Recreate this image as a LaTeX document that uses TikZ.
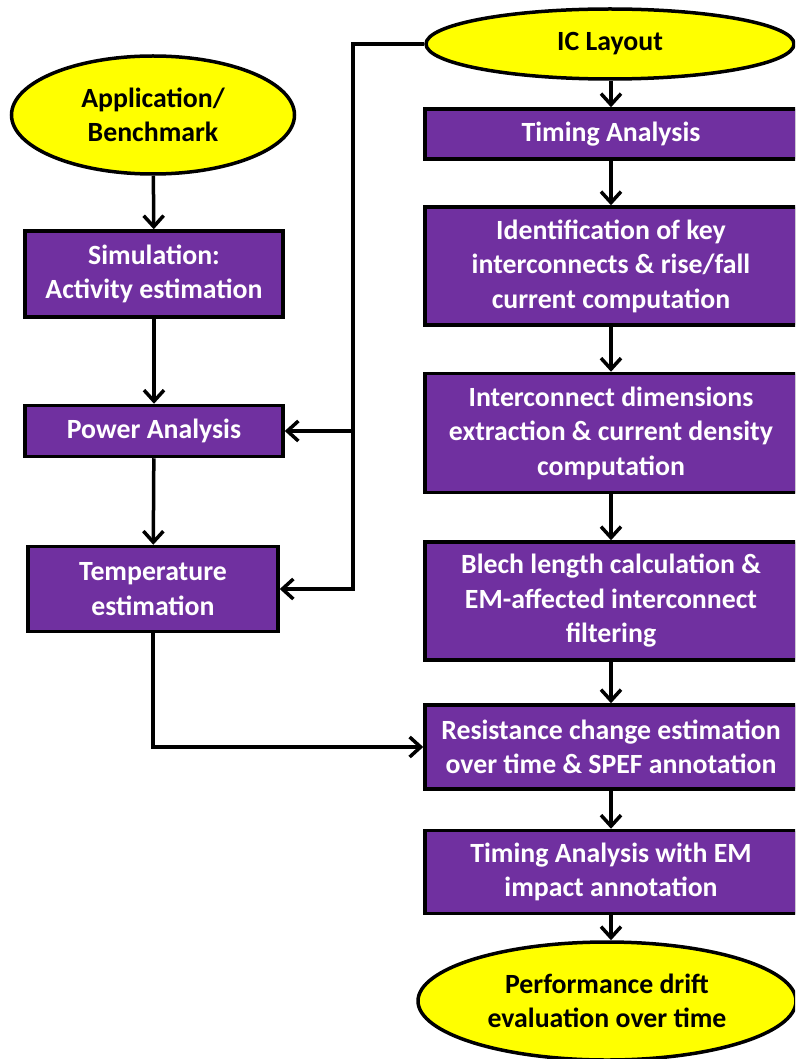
\documentclass[tikz,border=0pt]{standalone}
\usepackage{fontspec}
\setmainfont{Carlito}
\usetikzlibrary{arrows.meta,shapes.geometric}
\definecolor{stepfill}{HTML}{7030A0}
\definecolor{termfill}{HTML}{FFFF00}
\begin{document}
\begin{tikzpicture}[x=1pt,y=-1pt,
  every node/.style={font=\fontsize{27.8}{34.5}\selectfont\bfseries, align=center, inner sep=0pt},
  stepbox/.style={rectangle, draw=black, line width=3.5pt, fill=stepfill, text=white},
  term/.style={ellipse, draw=black, line width=3.5pt, fill=termfill, text=black},
  flow/.style={draw=black, line width=3.5pt, -{Straight Barb[length=11pt,width=20pt]}},
  wire/.style={draw=black, line width=3.5pt}]

\useasboundingbox (0,0) rectangle (795,1059);
\clip (0,0) rectangle (795,1059);

% left column
\node[term, minimum width=283pt, minimum height=118pt] (app) at (153,115) {Application/\\Benchmark};
\node[stepbox, minimum width=258pt, minimum height=86pt] (sim) at (154,274) {Simulation:\\Activity estimation};
\node[stepbox, minimum width=258pt, minimum height=51pt] (power) at (154,431) {Power Analysis};
\node[stepbox, minimum width=250pt, minimum height=85pt] (temp) at (153,589) {Temperature\\estimation};

% right column
\node[term, minimum width=368pt, minimum height=70pt] (ic) at (610,44) {IC Layout};
\node[stepbox, minimum width=372pt, minimum height=50pt] (ta) at (611,134) {Timing Analysis};
\node[stepbox, minimum width=372pt, minimum height=118pt] (ident) at (611,266) {Identification of key\\interconnects \& rise/fall\\current computation};
\node[stepbox, minimum width=372pt, minimum height=119pt] (dims) at (611,433) {Interconnect dimensions\\extraction \& current density\\computation};
\node[stepbox, minimum width=372pt, minimum height=118pt] (blech) at (611,601) {Blech length calculation \&\\EM-affected interconnect\\filtering};
\node[stepbox, minimum width=372pt, minimum height=84pt] (res) at (611,747) {Resistance change estimation\\over time \& SPEF annotation};
\node[stepbox, minimum width=372pt, minimum height=83pt] (tem) at (611,872) {Timing Analysis with EM\\impact annotation};
\node[term, minimum width=378pt, minimum height=118pt] (perf) at (607,1001) {Performance drift\\evaluation over time};

% layout feed bus
\coordinate (bus) at (353,0);

% left column flow
\draw[flow] (app) -- (sim);
\draw[flow] (sim) -- (power);
\draw[flow] (power) -- (temp);

% right column flow
\draw[flow] (ic.south -| ta.north) -- (ta.north);
\draw[flow] (ta) -- (ident);
\draw[flow] (ident) -- (dims);
\draw[flow] (dims) -- (blech);
\draw[flow] (blech) -- (res);
\draw[flow] (res) -- (tem);
\draw[flow] (tem.south) -- (tem.south |- perf.north);

% layout data to power and temperature
\draw[flow] (ic.west) -| (bus |- temp.east) -- (temp.east);
\draw[flow] (bus |- power.east) -- (power.east);

% temperature into resistance estimation
\draw[flow] (temp.south) |- (res.west);
\end{tikzpicture}
\end{document}
